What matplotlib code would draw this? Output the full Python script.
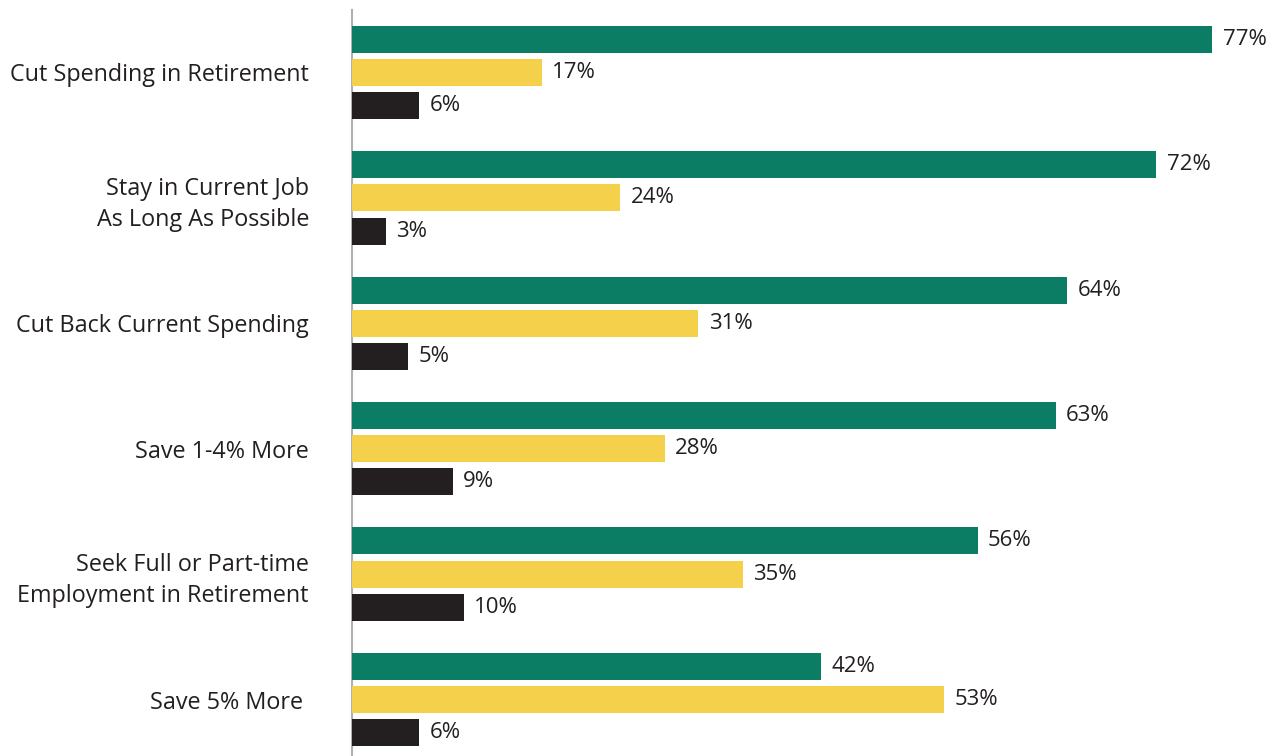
import numpy as np
import matplotlib
matplotlib.use('Agg')
import matplotlib.pyplot as plt

# data
categories = ['Cut Spending in Retirement',
              'Stay in Current Job\nAs Long As Possible',
              'Cut Back Current Spending',
              'Save 1-4% More',
              'Seek Full or Part-time\nEmployment in Retirement',
              'Save 5% More ']
green_vals = [77, 72, 64, 63, 56, 42]
yellow_vals = [17, 24, 31, 28, 35, 53]
black_vals = [6, 3, 5, 9, 10, 6]

green = '#0b7d64'
yellow = '#f5d04a'
dark = '#231f20'

plt.rcParams['font.family'] = ['Open Sans', 'DejaVu Sans']

fig = plt.figure(figsize=(12.73, 7.56), dpi=100)
ax = fig.add_axes([352 / 1273, 0, (1273 - 352) / 1273, 1])

y = np.arange(len(categories))
off = 0.265
h = 0.215

series = [(green_vals, green, -off), (yellow_vals, yellow, 0), (black_vals, dark, off)]
for vals, col, dy in series:
    bars = ax.barh(y + dy, vals, height=h, color=col, zorder=3)
    for b, v in zip(bars, vals):
        ax.annotate(f'{v}%', (b.get_width(), b.get_y() + b.get_height() / 2),
                    xytext=(7.5, 0), textcoords='offset points',
                    va='center', ha='left', fontsize=16, color=dark)

ax.set_xlim(0, (1273 - 352) / 11.17)
ax.set_ylim(5.45, -0.578)

for s in ['top', 'right', 'bottom']:
    ax.spines[s].set_visible(False)
ax.spines['left'].set_color('#b0b0b0')
ax.spines['left'].set_linewidth(1.5)
ax.spines['left'].set_zorder(1)
ax.spines['left'].set_bounds(-0.5, 5.45)

ax.set_xticks([])
ax.set_yticks(y)
ax.set_yticklabels(categories, fontsize=16.8, color=dark, linespacing=1.4)
ax.tick_params(axis='y', length=0, pad=31)

fig.savefig('out.png', dpi=100)
